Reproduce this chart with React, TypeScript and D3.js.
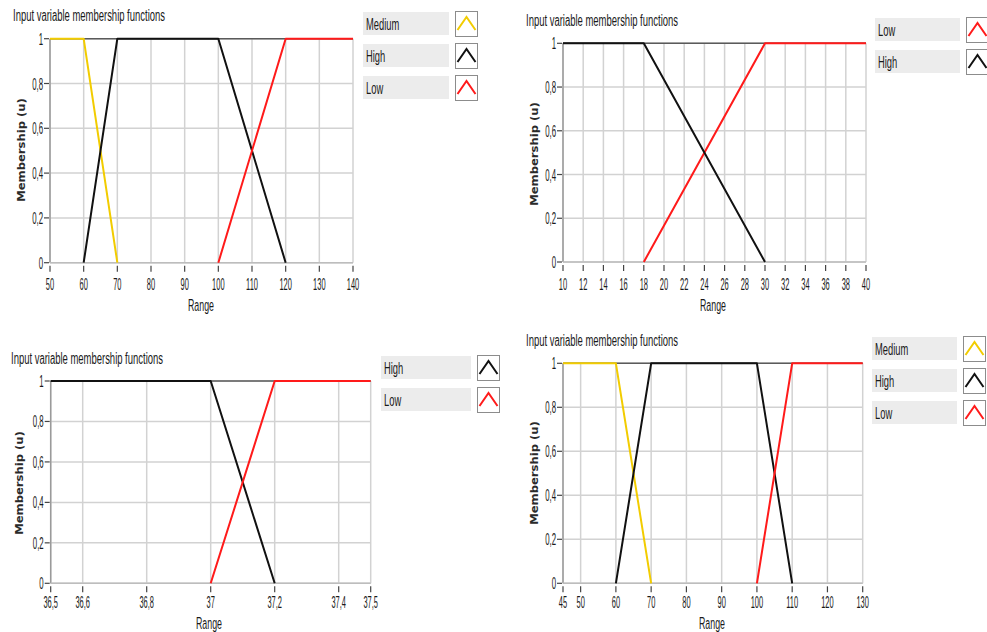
import * as d3 from "d3";

// membership functions
const in1Ticks = [50, 60, 70, 80, 90, 100, 110, 120, 130, 140];
const in1Medium: [number, number][] = [[50, 1], [60, 1], [70, 0]];
const in1High: [number, number][] = [[60, 0], [70, 1], [100, 1], [120, 0]];
const in1Low: [number, number][] = [[100, 0], [120, 1], [140, 1]];

const in2Ticks = [10, 12, 14, 16, 18, 20, 22, 24, 26, 28, 30, 32, 34, 36, 38, 40];
const in2Low: [number, number][] = [[18, 0], [30, 1], [40, 1]];
const in2High: [number, number][] = [[10, 1], [18, 1], [30, 0]];

const in3Ticks = [36.5, 36.6, 36.8, 37, 37.2, 37.4, 37.5];
const in3High: [number, number][] = [[36.5, 1], [37, 1], [37.2, 0]];
const in3Low: [number, number][] = [[37, 0], [37.2, 1], [37.5, 1]];

const in4Ticks = [45, 50, 60, 70, 80, 90, 100, 110, 120, 130];
const in4Medium: [number, number][] = [[45, 1], [60, 1], [70, 0]];
const in4High: [number, number][] = [[60, 0], [70, 1], [100, 1], [110, 0]];
const in4Low: [number, number][] = [[100, 0], [110, 1], [130, 1]];

const uTicks = [0, 0.2, 0.4, 0.6, 0.8, 1];

const COLORS: Record<string, string> = {
  Medium: "#f2cc00",
  High: "#111111",
  Low: "#ff1a1a",
};

const TITLE = "Input variable membership functions";
const NARROW = "'Liberation Sans', Arial, sans-serif";

const fmt = d3.formatLocale({
  decimal: ",",
  thousands: ".",
  grouping: [3],
  currency: ["", ""],
}).format("~g");

type Series = { name: string; pts: [number, number][] };

const panels = [
  {
    key: "p1",
    domain: [50, 140],
    ticks: in1Ticks,
    series: [
      { name: "Medium", pts: in1Medium },
      { name: "High", pts: in1High },
      { name: "Low", pts: in1Low },
    ] as Series[],
    x0: 50, x1: 353, yTop: 38.7, yBot: 262.7,
    titleX: 13, titleY: 21,
    legX: 363, legW: 86, symX: 455, legTop: 12,
    yLabX: 21, yLabY: 150, xLabX: 201, xLabY: 311, tickY: 290,
  },
  {
    key: "p2",
    domain: [10, 40],
    ticks: in2Ticks,
    series: [
      { name: "Low", pts: in2Low },
      { name: "High", pts: in2High },
    ] as Series[],
    x0: 563, x1: 866, yTop: 43.3, yBot: 262,
    titleX: 526, titleY: 26,
    legX: 875, legW: 85, symX: 966, legTop: 18,
    yLabX: 534, yLabY: 154, xLabX: 713, xLabY: 311, tickY: 290,
  },
  {
    key: "p3",
    domain: [36.5, 37.5],
    ticks: in3Ticks,
    series: [
      { name: "High", pts: in3High },
      { name: "Low", pts: in3Low },
    ] as Series[],
    x0: 50.7, x1: 370.7, yTop: 381, yBot: 583.3,
    titleX: 11, titleY: 364,
    legX: 381, legW: 90, symX: 477, legTop: 356,
    yLabX: 19, yLabY: 483, xLabX: 209, xLabY: 629, tickY: 608,
  },
  {
    key: "p4",
    domain: [45, 130],
    ticks: in4Ticks,
    series: [
      { name: "Medium", pts: in4Medium },
      { name: "High", pts: in4High },
      { name: "Low", pts: in4Low },
    ] as Series[],
    x0: 563, x1: 862.7, yTop: 363.3, yBot: 583.3,
    titleX: 526, titleY: 346,
    legX: 872, legW: 85, symX: 963, legTop: 337,
    yLabX: 534, yLabY: 473, xLabX: 712, xLabY: 629, tickY: 608,
  },
];

function SText({ x, y, sx = 1, size, anchor = "start", family = NARROW, weight = "normal", fill = "#1a1a1a", children }: any) {
  return (
    <text
      transform={`translate(${x},${y}) scale(${sx},1)`}
      textAnchor={anchor}
      fontFamily={family}
      fontSize={size}
      fontWeight={weight}
      fill={fill}
    >
      {children}
    </text>
  );
}

function Panel({ p }: { p: (typeof panels)[number] }) {
  const x = d3.scaleLinear().domain(p.domain).range([p.x0, p.x1]);
  const y = d3.scaleLinear().domain([0, 1]).range([p.yBot, p.yTop]);
  const line = d3
    .line<[number, number]>()
    .x((d) => x(d[0]))
    .y((d) => y(d[1]));

  return (
    <g>
      <text
        x={p.titleX}
        y={p.titleY}
        fontFamily={NARROW}
        fontSize={16}
        fill="#1a1a1a"
        textLength={152}
        lengthAdjust="spacingAndGlyphs"
      >
        {TITLE}
      </text>

      {/* plot background + grid */}
      <rect x={p.x0} y={p.yTop} width={p.x1 - p.x0} height={p.yBot - p.yTop} fill="#fff" />
      {p.ticks.map((t) => (
        <line key={"gx" + t} x1={x(t)} x2={x(t)} y1={p.yTop} y2={p.yBot} stroke="#d2d2d2" strokeWidth={1.5} />
      ))}
      {uTicks.map((t) => (
        <line key={"gy" + t} x1={p.x0} x2={p.x1} y1={y(t)} y2={y(t)} stroke="#d2d2d2" strokeWidth={1.5} />
      ))}
      <line x1={p.x0} x2={p.x0} y1={p.yTop} y2={p.yBot} stroke="#9a9a9a" strokeWidth={1.5} />
      <line x1={p.x0} x2={p.x1} y1={p.yBot} y2={p.yBot} stroke="#bdbdbd" strokeWidth={1.5} />
      <line x1={p.x0} x2={p.x1} y1={p.yTop} y2={p.yTop} stroke="#5a5a5a" strokeWidth={1.5} />

      {/* y ticks */}
      {uTicks.map((t) => (
        <g key={"ty" + t}>
          <line x1={p.x0 - 6} x2={p.x0 - 1} y1={y(t)} y2={y(t)} stroke="#444" strokeWidth={1.2} />
          <SText x={p.x0 - 7} y={y(t) + 6} sx={0.46} size={17} anchor="end">
            {fmt(t)}
          </SText>
        </g>
      ))}

      {/* x ticks */}
      {p.ticks.map((t) => (
        <g key={"tx" + t}>
          <line x1={x(t)} x2={x(t)} y1={p.yBot + 3} y2={p.yBot + 9} stroke="#444" strokeWidth={1.2} />
          <SText x={x(t)} y={p.tickY} sx={0.44} size={17} anchor="middle">
            {fmt(t)}
          </SText>
        </g>
      ))}

      {/* axis titles */}
      <g transform={`translate(${p.yLabX},${p.yLabY}) rotate(-90) scale(1,0.9)`}>
        <text
          textAnchor="middle"
          dy="0.35em"
          fontFamily="'DejaVu Sans', Verdana, sans-serif"
          fontWeight="bold"
          fontSize={11.6}
          fill="#2a2a2a"
        >
          Membership (u)
        </text>
      </g>
      <SText x={p.xLabX} y={p.xLabY} sx={0.52} size={17} anchor="middle">
        Range
      </SText>

      {/* membership curves */}
      {p.series.map((s) => (
        <path key={s.name} d={line(s.pts) ?? ""} fill="none" stroke={COLORS[s.name]} strokeWidth={2} strokeLinejoin="round" />
      ))}

      {/* legend */}
      {p.series.map((s, i) => {
        const ty = p.legTop + i * 32;
        return (
          <g key={"lg" + s.name}>
            <rect x={p.legX} y={ty} width={p.legW} height={23} fill="#ececec" />
            <SText x={p.legX + 3} y={ty + 18} sx={0.55} size={17}>
              {s.name}
            </SText>
            <rect x={p.symX + 0.5} y={ty - 0.5} width={22} height={25} fill="#fff" stroke="#8c8c8c" strokeWidth={1} />
            <path
              d={`M${p.symX + 2.5},${ty + 18} L${p.symX + 11.5},${ty + 5} L${p.symX + 20.5},${ty + 18}`}
              fill="none"
              stroke={COLORS[s.name]}
              strokeWidth={2}
            />
          </g>
        );
      })}
    </g>
  );
}

export default function App() {
  return (
    <svg
      width={987}
      height={632}
      style={{ position: "absolute", left: 0, top: 0, background: "#fff" }}
    >
      <rect width={987} height={632} fill="#fff" />
      {panels.map((p) => (
        <Panel key={p.key} p={p} />
      ))}
    </svg>
  );
}
